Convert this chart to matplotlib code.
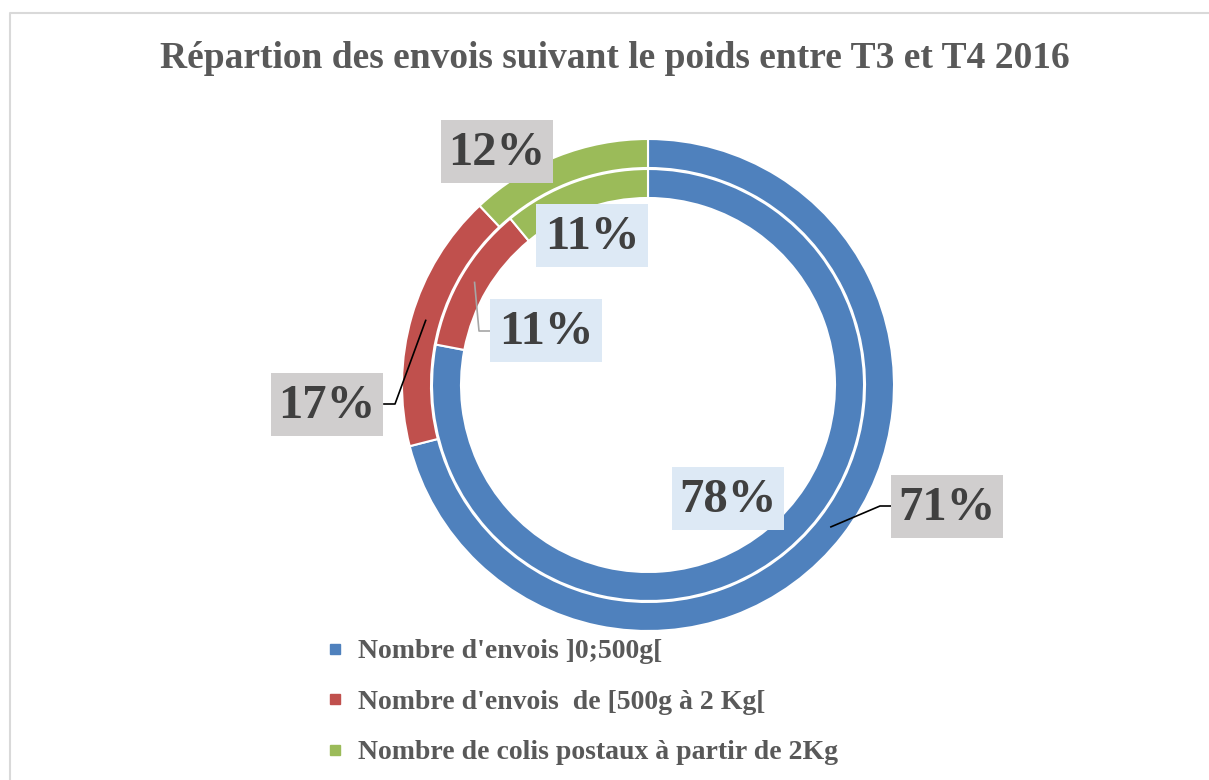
import matplotlib.pyplot as plt
import numpy as np
from matplotlib.patches import Rectangle
from matplotlib.lines import Line2D

# data
categories = ["Nombre d'envois ]0;500g[",
              "Nombre d'envois  de [500g à 2 Kg[",
              "Nombre de colis postaux à partir de 2Kg"]
outer_vals = [71, 17, 12]   # T4 (outer ring)
inner_vals = [78, 11, 11]   # T3 (inner ring)
title = "Répartion des envois suivant le poids entre T3 et T4 2016"

colors = ['#4F81BD', '#C0504D', '#9BBB59']
txt_col = '#404040'
W, H = 1209, 780

plt.rcParams['font.family'] = ['Liberation Serif', 'DejaVu Serif']

fig = plt.figure(figsize=(W / 100, H / 100), dpi=100)
ax = fig.add_axes([0, 0, 1, 1])

# pixel helper: image y goes down
def py(y):
    return H - y

cx, cy = 648, py(385)
r_out, r_in, ring_w = 246, 216, 29

ax.pie(outer_vals, radius=r_out, center=(cx, cy), startangle=90,
       counterclock=False, colors=colors,
       wedgeprops=dict(width=ring_w, edgecolor='white', linewidth=1.5))
ax.pie(inner_vals, radius=r_in, center=(cx, cy), startangle=90,
       counterclock=False, colors=colors,
       wedgeprops=dict(width=ring_w, edgecolor='white', linewidth=1.5))

ax.set_xlim(0, W)
ax.set_ylim(0, H)
ax.set_aspect('equal')
ax.axis('off')

# chart border
ax.plot([10, 10, W + 5], [-5, py(13), py(13)], color='#D9D9D9', lw=1.5,
        clip_on=False)


def mid_angle(vals, i):
    fr = np.cumsum([0] + list(vals)) / sum(vals)
    return np.deg2rad(90 - 360 * (fr[i] + fr[i + 1]) / 2)


def anchor(vals, i, r):
    a = mid_angle(vals, i)
    return cx + r * np.cos(a), cy + r * np.sin(a)


# data labels: (values, index, box centre in px, box colour)
box_w, box_h = 112, 63
labels = [
    (outer_vals, 0, (947, 506), '#D0CECE'),
    (outer_vals, 1, (327, 404), '#D0CECE'),
    (outer_vals, 2, (497, 151), '#D0CECE'),
    (inner_vals, 0, (728, 498), '#DDE9F5'),
    (inner_vals, 1, (546, 330), '#DDE9F5'),
    (inner_vals, 2, (592, 235), '#DDE9F5'),
]
for vals, i, (bx, by), bc in labels:
    ax.add_patch(Rectangle((bx - box_w / 2, py(by) - box_h / 2), box_w, box_h,
                           facecolor=bc, edgecolor='none', zorder=3))
    ax.text(bx, py(by) - 2, f"{vals[i]}%", ha='center', va='center',
            fontsize=35, fontweight='bold', color=txt_col, zorder=4)

# leader lines
x0, y0 = anchor(outer_vals, 0, r_out - ring_w / 2)
ax.plot([x0, 880, 891], [y0, py(506), py(506)], color='black', lw=1.2, zorder=2)
x0, y0 = anchor(outer_vals, 1, r_out - ring_w / 2)
ax.plot([x0, 395, 384], [y0, py(404), py(404)], color='black', lw=1.2, zorder=2)
x0, y0 = anchor(inner_vals, 1, r_in - ring_w / 2)
ax.plot([x0, 479, 492], [y0, py(331), py(331)], color='#A6A6A6', lw=1.2, zorder=2)

# title
ax.text(615, py(59), title, ha='center', va='center', fontsize=27,
        fontweight='bold', color='#595959')

# legend
handles = [Line2D([], [], marker='s', linestyle='none', markersize=7,
                  markerfacecolor=c, markeredgecolor=c) for c in colors]
leg = ax.legend(handles, categories, loc='upper left',
                bbox_to_anchor=(327 / W, 1 - 639 / H), frameon=False,
                prop=dict(family='Liberation Serif', weight='bold', size=20),
                labelcolor='#595959', handlelength=0.6, handletextpad=0.5,
                labelspacing=0.9, borderaxespad=0, borderpad=0)

fig.savefig('out.png', dpi=100)
